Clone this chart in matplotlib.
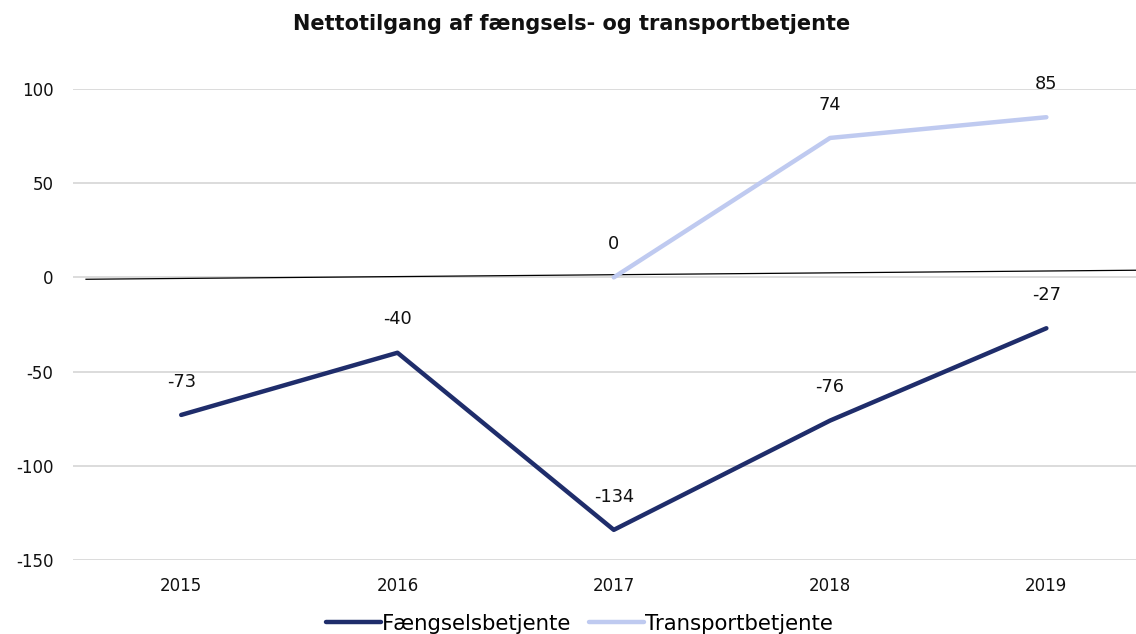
import matplotlib.pyplot as plt
import numpy as np

plt.rcParams['axes.unicode_minus'] = False

years = ['2015', '2016', '2017', '2018', '2019']
faengsel = [-73, -40, -134, -76, -27]
transport = [np.nan, np.nan, 0, 74, 85]
yticks = [-150, -100, -50, 0, 50, 100]

# the thin black "zero" line in the original is drawn slightly tilted
zero_x = [-0.44, 4.42]
zero_y = [-1.0, 3.8]

dark = '#1f2d6b'
light = '#bfcaf0'

fig = plt.figure(figsize=(11.36, 6.34), dpi=100)
ax = fig.add_axes([0.0643, 0.1167, 0.952, 0.743])

x = np.arange(len(years))
ax.plot(x, faengsel, color=dark, lw=3.2, solid_capstyle='round', label='Fængselsbetjente', zorder=3)
ax.plot(x, transport, color=light, lw=3.2, solid_capstyle='round', label='Transportbetjente', zorder=3)
ax.plot(zero_x, zero_y, color='black', lw=0.9, zorder=2)

for xi, v in zip(x, faengsel):
    ax.annotate(str(v), (xi, v), xytext=(0, 24), textcoords='offset points',
                ha='center', va='center', fontsize=12.8, color='#111111')
for xi, v in zip(x, transport):
    if not np.isnan(v):
        ax.annotate(str(int(v)), (xi, v), xytext=(0, 24), textcoords='offset points',
                    ha='center', va='center', fontsize=12.8, color='#111111')

ax.set_xlim(-0.5, 4.5)
ax.set_ylim(-150, 100)
ax.set_yticks(yticks)
ax.set_xticks(x)
ax.set_xticklabels(years)
ax.yaxis.grid(True, color='#d9d9d9', lw=1.3)
ax.set_axisbelow(True)
for s in ax.spines.values():
    s.set_visible(False)
ax.tick_params(length=0, labelsize=12, colors='#111111')
ax.tick_params(axis='y', pad=14)
ax.tick_params(axis='x', pad=12)

fig.suptitle('Nettotilgang af fængsels- og transportbetjente', x=0.503, y=0.978,
             fontsize=15, fontweight='bold', color='#111111')

fig.legend(loc='lower center', bbox_to_anchor=(0.51, -0.03), ncol=2, frameon=False,
           fontsize=15.3, handlelength=2.6, handletextpad=0.05, columnspacing=0.8)

fig.savefig('out.png', dpi=100)
